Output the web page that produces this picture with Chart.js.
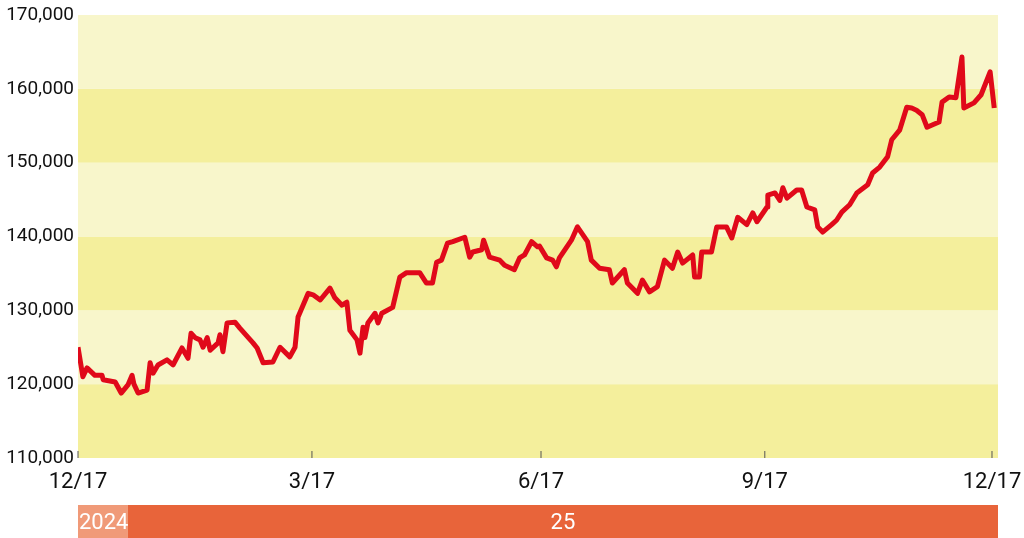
<!DOCTYPE html>
<html>
<head>
<meta charset="utf-8">
<script src="https://cdn.jsdelivr.net/npm/chart.js@4"></script>
<style>
  html, body { margin: 0; padding: 0; background: #fff; }
  #wrap { width: 1024px; height: 538px; }
</style>
</head>
<body>
<div id="wrap"><canvas id="chart" width="1024" height="538"></canvas></div>
<script>
// trading-day index and price (thousands)
const days = [0, 1.3, 2.4, 4.5, 6.4, 6.7, 9.9, 11.5, 13.3, 14.4, 14.9, 16.0, 18.4, 19.2, 20.0, 21.3, 23.7, 25.3, 27.7, 29.3,
  30.1, 31.2, 32.5, 33.3, 34.4, 35.2, 37.3, 37.8, 38.6, 39.7, 41.8, 43.1, 46.6, 47.7, 49.3, 51.9, 53.8, 56.4, 57.8, 58.6,
  61.3, 62.6, 64.5, 67.1, 68.4, 70.3, 71.6, 72.4, 74.3, 75.1, 75.9, 76.4, 77.2, 79.1, 79.9, 80.9, 83.8, 85.7, 87.5, 91.0,
  92.8, 94.4, 95.5, 96.8, 98.4, 99.8, 103.0, 104.3, 105.1, 107.5, 108.0, 109.6, 112.3, 113.6, 116.2, 117.6, 118.9, 120.8, 122.4, 122.9,
  124.8, 126.4, 127.4, 128.2, 131.4, 133.0, 135.7, 136.7, 138.9, 141.5, 142.3, 145.5, 146.3, 149.0, 150.3, 152.2, 154.3, 156.2, 158.3, 159.7,
  161.0, 163.7, 164.2, 165.5, 166.1, 168.7, 170.1, 172.7, 174.1, 175.7, 178.1, 179.7, 180.8, 183.5, 183.7, 185.6, 186.9, 187.7, 188.8, 191.4,
  192.7, 194.1, 196.2, 197.0, 198.3, 200.7, 202.0, 203.4, 205.5, 207.4, 210.3, 211.6, 213.5, 215.6, 216.7, 218.8, 220.7, 222.0, 223.3, 224.8,
  226.1, 229.3, 230.1, 232.0, 233.8, 235.4, 235.9, 238.6, 240.5, 242.9, 244.0];
const prices = [125.0, 121.0, 122.2, 121.2, 121.2, 120.6, 120.3, 118.8, 119.9, 121.2, 120.0, 118.8, 119.2, 122.9, 121.5, 122.6, 123.3, 122.6, 124.9, 123.5,
  126.9, 126.3, 126.0, 125.0, 126.3, 124.6, 125.6, 126.7, 124.4, 128.3, 128.4, 127.6, 125.6, 124.9, 122.9, 123.0, 125.0, 123.7, 125.0, 129.1,
  132.3, 132.1, 131.4, 133.0, 131.7, 130.7, 131.1, 127.3, 126.0, 124.2, 127.7, 126.3, 128.3, 129.6, 128.3, 129.6, 130.4, 134.5, 135.1, 135.1,
  133.7, 133.7, 136.5, 136.8, 139.1, 139.3, 139.9, 137.2, 137.9, 138.2, 139.5, 137.2, 136.8, 136.1, 135.5, 137.1, 137.5, 139.3, 138.6, 138.7,
  137.1, 136.8, 135.9, 137.1, 139.5, 141.3, 139.3, 136.8, 135.7, 135.5, 133.7, 135.5, 133.7, 132.3, 134.1, 132.5, 133.2, 136.8, 135.7, 137.9,
  136.4, 137.5, 134.5, 134.5, 137.9, 137.9, 141.3, 141.3, 139.8, 142.6, 141.6, 143.2, 142.0, 144.0, 145.6, 145.9, 144.9, 146.6, 145.2, 146.3,
  146.3, 144.0, 143.6, 141.3, 140.6, 141.6, 142.2, 143.3, 144.3, 145.9, 147.0, 148.6, 149.4, 150.8, 153.1, 154.4, 157.5, 157.4, 157.1, 156.5,
  154.8, 155.5, 158.2, 158.9, 158.8, 164.3, 157.4, 158.1, 159.2, 162.3, 157.4];

const tickDays = [0, 62.3, 123.3, 182.9, 243.4];
const tickLabels = ['12/17', '3/17', '6/17', '9/17', '12/17'];
const yTicks = [110, 120, 130, 140, 150, 160, 170];
const yearStarts = [0, 13.3];
const yearLabels = ['2024', '25'];

const FONT = "Roboto, sans-serif";

const decor = {
  id: 'decor',
  beforeDatasetsDraw(chart) {
    const { ctx, chartArea: a, scales: { y, x } } = chart;
    ctx.save();
    for (let v = 110; v < 170; v += 10) {
      const top = y.getPixelForValue(v + 10), bot = y.getPixelForValue(v);
      ctx.fillStyle = ((v - 110) / 10) % 2 === 0 ? '#f4ef9c' : '#f8f6cb';
      ctx.fillRect(a.left, top, a.right - a.left, bot - top);
    }
    // x ticks and labels
    ctx.strokeStyle = '#555';
    ctx.lineWidth = 1;
    ctx.fillStyle = '#111';
    ctx.font = '22px ' + FONT;
    ctx.textBaseline = 'middle';
    tickDays.forEach((d, i) => {
      const px = x.getPixelForValue(d);
      ctx.beginPath();
      ctx.moveTo(px, a.bottom);
      ctx.lineTo(px, a.bottom - 7);
      ctx.stroke();
      ctx.textAlign = 'center';
      ctx.fillText(tickLabels[i], Math.min(px, 1024 - 32), a.bottom + 24);
    });
    // y labels
    ctx.font = '19px ' + FONT;
    ctx.textAlign = 'right';
    yTicks.forEach(v => {
      ctx.fillText((v * 1000).toLocaleString('en-US'), a.left - 4, y.getPixelForValue(v));
    });
    // year bar
    const barTop = 505, barH = 33;
    const x0 = x.getPixelForValue(yearStarts[0]);
    const x1 = x.getPixelForValue(yearStarts[1]);
    const x2 = a.right;
    ctx.fillStyle = '#f09a78';
    ctx.fillRect(x0, barTop, x1 - x0, barH);
    ctx.fillStyle = '#e8643a';
    ctx.fillRect(x1, barTop, x2 - x1, barH);
    ctx.fillStyle = '#fff';
    ctx.font = '22px ' + FONT;
    ctx.textAlign = 'left';
    ctx.fillText(yearLabels[0], x0 + 1, barTop + barH / 2 + 2);
    ctx.textAlign = 'center';
    ctx.fillText(yearLabels[1], (x1 + x2) / 2, barTop + barH / 2 + 2);
    ctx.restore();
  }
};

new Chart(document.getElementById('chart'), {
  type: 'line',
  data: {
    datasets: [{
      data: days.map((d, i) => ({ x: d, y: prices[i] })),
      borderColor: '#e0091a',
      borderWidth: 5,
      pointRadius: 0,
      tension: 0,
      borderJoinStyle: 'round'
    }]
  },
  options: {
    responsive: false,
    animation: false,
    layout: { padding: { top: 15, right: 26, left: 0, bottom: 0 } },
    plugins: { legend: { display: false }, tooltip: { enabled: false } },
    scales: {
      x: {
        type: 'linear', min: 0, max: 245,
        afterFit: s => { s.height = 80; },
        grid: { display: false },
        border: { display: false },
        ticks: { display: false }
      },
      y: {
        min: 110, max: 170,
        afterFit: s => { s.width = 78; },
        grid: { display: false },
        border: { display: false },
        ticks: { display: false }
      }
    }
  },
  plugins: [decor]
});
</script>
</body>
</html>
